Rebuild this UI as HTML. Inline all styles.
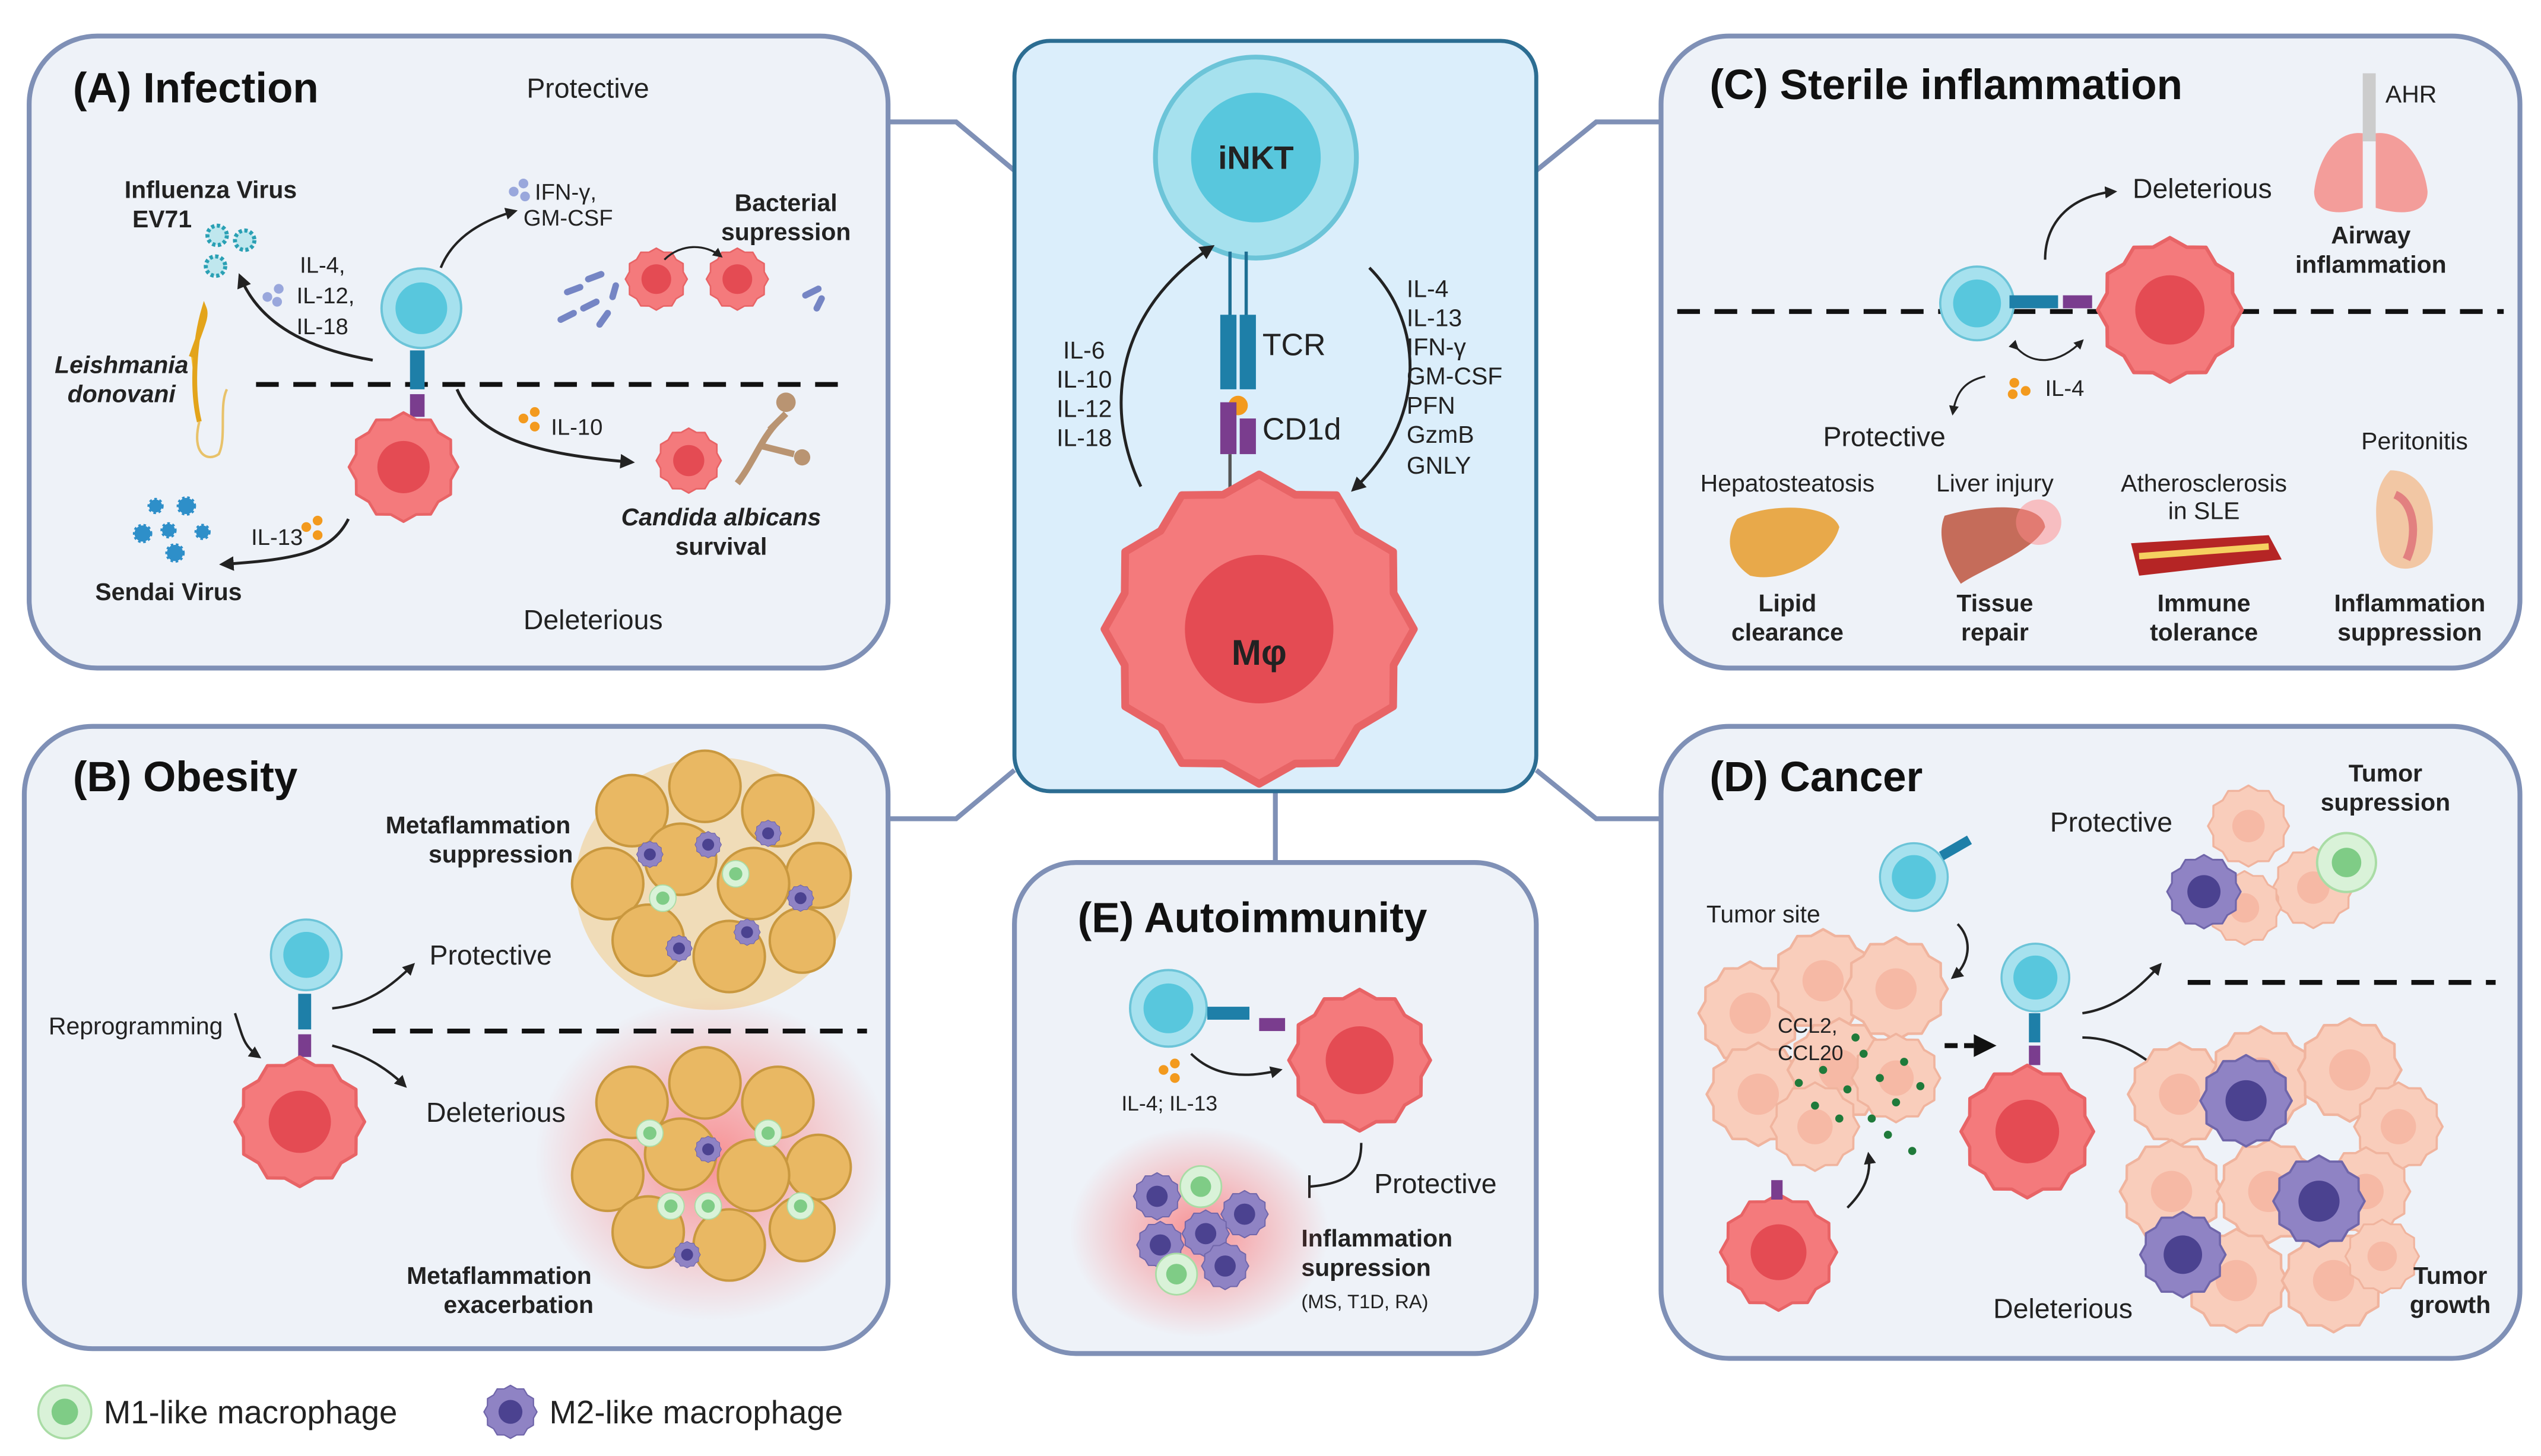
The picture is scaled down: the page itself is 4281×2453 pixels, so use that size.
<!DOCTYPE html>
<html><head><meta charset="utf-8"><style>
html,body{margin:0;padding:0;background:#fff}
svg{display:block}
text{font-family:"Liberation Sans",sans-serif;fill:#222}
.t{font-size:26px;font-weight:bold;fill:#111}
.l{font-size:17px}
.s{font-size:14px}
.b{font-size:15px;font-weight:bold}
.bi{font-size:15px;font-weight:bold;font-style:italic}
</style></head><body>
<svg width="4281" height="2453" viewBox="0 0 1568 898" xmlns="http://www.w3.org/2000/svg">
<defs>
<polygon id="star" points="1,0 .869,.233 .866,.5 .636,.636 .5,.866 .233,.869 0,1 -.233,.869 -.5,.866 -.636,.636 -.866,.5 -.869,.233 -1,0 -.869,-.233 -.866,-.5 -.636,-.636 -.5,-.866 -.233,-.869 0,-1 .233,-.869 .5,-.866 .636,-.636 .866,-.5 .869,-.233" stroke-linejoin="round"/>
<symbol id="blob" viewBox="-1.1 -1.1 2.2 2.2"><use href="#star" fill="#f47a7c" stroke="#e86466" stroke-width=".05"/><circle r=".48" fill="#e44b53"/></symbol>
<symbol id="tum" viewBox="-1.1 -1.1 2.2 2.2"><use href="#star" fill="#f9cdbb" stroke="#f0b49e" stroke-width=".05"/><circle r=".4" fill="#f6b9a5"/></symbol>
<symbol id="m2" viewBox="-1.1 -1.1 2.2 2.2"><use href="#star" fill="#8f83c4" stroke="#7066aa" stroke-width=".05"/><circle r=".45" fill="#4b4290"/></symbol>
<symbol id="m1" viewBox="-1.1 -1.1 2.2 2.2"><circle r="1" fill="#d9f2d8" stroke="#a9dca5" stroke-width=".08"/><circle r=".5" fill="#7fcc86"/></symbol>
<symbol id="nkt" viewBox="-1.1 -1.1 2.2 2.2"><circle r="1" fill="#a6e1ee" stroke="#6cc4d8" stroke-width=".06"/><circle r=".65" fill="#58c7dd"/></symbol>
<marker id="ar" viewBox="0 0 10 10" refX="8" refY="5" markerWidth="5" markerHeight="5" orient="auto"><path d="M0,0L10,5L0,10z" fill="#222"/></marker>
<radialGradient id="glow"><stop offset="0" stop-color="#ff5050" stop-opacity=".6"/><stop offset="1" stop-color="#ff5050" stop-opacity="0"/></radialGradient>
</defs>
<rect width="1568" height="898" fill="#fff"/>
<g stroke="#7f90b6" stroke-width="3" fill="none">
<path d="M548,75L590,75L626,105"/><path d="M548,505L590,505L626,475"/>
<path d="M1025,75L985,75L948,105"/><path d="M1025,505L985,505L948,475"/>
<path d="M787,488V532"/>
</g>
<g stroke="#7f90b6" stroke-width="3" fill="#eef2f8">
<rect x="18" y="22" width="530" height="390" rx="42"/>
<rect x="15" y="448" width="533" height="384" rx="42"/>
<rect x="626" y="532" width="322" height="303" rx="38"/>
<rect x="1025" y="22" width="530" height="390" rx="42"/>
<rect x="1025" y="448" width="530" height="390" rx="42"/>
</g>
<rect x="626" y="25" width="322" height="463" rx="22" fill="#dbeefb" stroke="#2c6d92" stroke-width="2.5"/>
<circle cx="775" cy="97" r="62" fill="#a6e1ee" stroke="#6cc4d8" stroke-width="3"/>
<circle cx="775" cy="97" r="40" fill="#58c7dd"/>
<text x="775" y="104" text-anchor="middle" style="font-size:20px;font-weight:bold">iNKT</text>
<g stroke="#1e6f93" stroke-width="2"><line x1="759" y1="155" x2="759" y2="195"/><line x1="769" y1="155" x2="769" y2="195"/></g>
<rect x="753" y="194" width="10" height="46" fill="#1e7fa8"/><rect x="765" y="194" width="10" height="46" fill="#1e7fa8"/>
<circle cx="764" cy="250" r="6" fill="#f39a1e"/>
<rect x="753" y="248" width="10" height="32" fill="#7a3d8e"/><rect x="765" y="258" width="10" height="22" fill="#7a3d8e"/>
<line x1="759" y1="280" x2="759" y2="310" stroke="#555" stroke-width="2"/>
<text x="779" y="219" class="l" style="font-size:19px">TCR</text>
<text x="779" y="271" class="l" style="font-size:19px">CD1d</text>
<use href="#blob" x="672" y="283" width="210" height="210"/>
<text x="777" y="410" text-anchor="middle" style="font-size:22px;font-weight:bold">Mφ</text>
<path d="M704,300C680,250 690,190 748,152" fill="none" stroke="#222" stroke-width="1.8" marker-end="url(#ar)"/>
<path d="M845,165C880,200 880,260 835,302" fill="none" stroke="#222" stroke-width="1.8" marker-end="url(#ar)"/>
<g class="l" style="font-size:15px"><text x="656" y="221">IL-6</text><text x="652" y="239">IL-10</text><text x="652" y="257">IL-12</text><text x="652" y="275">IL-18</text>
<text x="868" y="183">IL-4</text><text x="868" y="201">IL-13</text><text x="868" y="219">IFN-γ</text><text x="868" y="237">GM-CSF</text><text x="868" y="255">PFN</text><text x="868" y="273">GzmB</text><text x="868" y="292">GNLY</text></g>
<!-- A -->
<text x="45" y="63" class="t">(A) Infection</text>
<text x="325" y="60" class="l">Protective</text><text x="323" y="388" class="l">Deleterious</text>
<line x1="158" y1="237" x2="520" y2="237" stroke="#111" stroke-width="3" stroke-dasharray="14,9"/>
<use href="#nkt" x="233" y="163" width="54" height="54"/>
<rect x="253" y="216" width="9" height="24" fill="#1e7fa8"/><rect x="253" y="243" width="9" height="14" fill="#7a3d8e"/>
<use href="#blob" x="212" y="251" width="74" height="74"/>
<text x="130" y="122" class="b" text-anchor="middle">Influenza Virus</text><text x="100" y="140" class="b" text-anchor="middle">EV71</text>
<g fill="#bfe7ee" stroke="#2aa0b4" stroke-width="2.5" stroke-dasharray="2,1.5"><circle cx="134" cy="145" r="6"/><circle cx="151" cy="148" r="6"/><circle cx="133" cy="164" r="6"/></g>
<path d="M230,222C190,215 160,200 148,170" fill="none" stroke="#222" stroke-width="1.8" marker-end="url(#ar)"/>
<g class="s"><text x="185" y="168">IL-4,</text><text x="183" y="187">IL-12,</text><text x="183" y="206">IL-18</text></g>
<g fill="#99a7dc"><circle cx="165" cy="183" r="3"/><circle cx="172" cy="178" r="3"/><circle cx="171" cy="186" r="3"/></g>
<path d="M272,165C280,145 300,135 318,130" fill="none" stroke="#222" stroke-width="1.5" marker-end="url(#ar)"/>
<text x="330" y="123" class="s">IFN-γ,</text><text x="323" y="139" class="s">GM-CSF</text>
<g fill="#99a7dc"><circle cx="317" cy="118" r="3"/><circle cx="323" cy="113" r="3"/><circle cx="324" cy="121" r="3"/></g>
<text x="485" y="130" class="b" text-anchor="middle">Bacterial</text><text x="485" y="148" class="b" text-anchor="middle">supression</text>
<use href="#blob" x="384" y="151" width="42" height="42"/><use href="#blob" x="434" y="151" width="42" height="42"/>
<path d="M410,160C420,150 435,150 445,158" fill="none" stroke="#222" stroke-width="1.2" marker-end="url(#ar)"/>
<g stroke="#7585c4" stroke-width="4" stroke-linecap="round"><line x1="350" y1="180" x2="358" y2="177"/><line x1="360" y1="190" x2="368" y2="186"/><line x1="346" y1="197" x2="354" y2="193"/><line x1="370" y1="200" x2="375" y2="193"/><line x1="363" y1="172" x2="371" y2="169"/><line x1="378" y1="183" x2="380" y2="176"/><line x1="497" y1="182" x2="505" y2="178"/><line x1="504" y1="190" x2="507" y2="184"/></g>
<text x="75" y="230" class="bi" text-anchor="middle">Leishmania</text><text x="75" y="248" class="bi" text-anchor="middle">donovani</text>
<path d="M118,220C125,200 128,195 126,190C120,210 118,240 123,260" fill="#f2b92c" stroke="#e3a41b" stroke-width="3"/>
<path d="M123,260C118,280 128,285 135,280C140,270 135,250 140,240" fill="none" stroke="#e8c26a" stroke-width="1.5"/>
<path d="M282,240C295,270 330,280 390,285" fill="none" stroke="#222" stroke-width="1.8" marker-end="url(#ar)"/>
<text x="340" y="268" class="s">IL-10</text>
<g fill="#f39a1e"><circle cx="323" cy="258" r="3"/><circle cx="330" cy="254" r="3"/><circle cx="330" cy="263" r="3"/></g>
<use href="#blob" x="403" y="262" width="44" height="44"/>
<path d="M455,298C465,285 470,270 480,260M470,275L490,280M475,265L485,255" stroke="#b99472" stroke-width="4" fill="none"/>
<circle cx="485" cy="248" r="6" fill="#b99472"/><circle cx="495" cy="282" r="5" fill="#b99472"/>
<text x="445" y="324" class="bi" text-anchor="middle">Candida albicans</text><text x="445" y="342" class="b" text-anchor="middle">survival</text>
<path d="M215,320C205,340 185,345 137,348" fill="none" stroke="#222" stroke-width="1.8" marker-end="url(#ar)"/>
<text x="155" y="336" class="s">IL-13</text>
<g fill="#f39a1e"><circle cx="189" cy="325" r="3"/><circle cx="196" cy="321" r="3"/><circle cx="196" cy="330" r="3"/></g>
<g fill="#2e8fc9" stroke="#2e8fc9" stroke-width="2" stroke-dasharray="1.5,1.5"><circle cx="88" cy="329" r="5"/><circle cx="104" cy="327" r="4"/><circle cx="96" cy="312" r="4"/><circle cx="115" cy="312" r="5"/><circle cx="125" cy="328" r="4"/><circle cx="108" cy="341" r="5"/></g>
<text x="104" y="370" class="b" text-anchor="middle">Sendai Virus</text>
<!-- B -->
<text x="45" y="488" class="t">(B) Obesity</text>
<text x="295" y="514" class="b" text-anchor="middle">Metaflammation</text><text x="309" y="532" class="b" text-anchor="middle">suppression</text>
<ellipse cx="440" cy="545" rx="85" ry="78" fill="#f0dcb8"/>
<g fill="#e9b863" stroke="#c9983f" stroke-width="1.5">
<circle cx="390" cy="500" r="22"/><circle cx="435" cy="485" r="22"/><circle cx="480" cy="500" r="22"/><circle cx="505" cy="540" r="20"/><circle cx="375" cy="545" r="22"/><circle cx="420" cy="530" r="22"/><circle cx="465" cy="545" r="22"/><circle cx="400" cy="580" r="22"/><circle cx="450" cy="590" r="22"/><circle cx="495" cy="580" r="20"/></g>
<use href="#m2" x="392" y="518" width="18" height="18"/><use href="#m2" x="428" y="512" width="18" height="18"/><use href="#m2" x="485" y="545" width="18" height="18"/><use href="#m2" x="410" y="576" width="18" height="18"/><use href="#m2" x="452" y="566" width="18" height="18"/><use href="#m2" x="465" y="505" width="18" height="18"/>
<use href="#m1" x="400" y="545" width="18" height="18"/><use href="#m1" x="445" y="530" width="18" height="18"/>
<ellipse cx="440" cy="715" rx="110" ry="100" fill="url(#glow)"/>
<g fill="#e9b863" stroke="#c9983f" stroke-width="1.5">
<circle cx="390" cy="680" r="22"/><circle cx="435" cy="668" r="22"/><circle cx="480" cy="680" r="22"/><circle cx="505" cy="720" r="20"/><circle cx="375" cy="725" r="22"/><circle cx="420" cy="712" r="22"/><circle cx="465" cy="725" r="22"/><circle cx="400" cy="760" r="22"/><circle cx="450" cy="768" r="22"/><circle cx="495" cy="758" r="20"/></g>
<use href="#m1" x="392" y="690" width="18" height="18"/><use href="#m1" x="428" y="735" width="18" height="18"/><use href="#m1" x="485" y="735" width="18" height="18"/><use href="#m1" x="405" y="735" width="18" height="18"/><use href="#m1" x="465" y="690" width="18" height="18"/><use href="#m2" x="428" y="700" width="18" height="18"/><use href="#m2" x="415" y="765" width="18" height="18"/>
<text x="308" y="792" class="b" text-anchor="middle">Metaflammation</text><text x="320" y="810" class="b" text-anchor="middle">exacerbation</text>
<use href="#nkt" x="165" y="565" width="48" height="48"/>
<rect x="184" y="613" width="8" height="22" fill="#1e7fa8"/><rect x="184" y="638" width="8" height="14" fill="#7a3d8e"/>
<use href="#blob" x="141" y="648" width="88" height="88"/>
<line x1="230" y1="636" x2="535" y2="636" stroke="#111" stroke-width="3" stroke-dasharray="14,9"/>
<path d="M205,622C225,620 240,610 255,595" fill="none" stroke="#222" stroke-width="1.5" marker-end="url(#ar)"/>
<path d="M205,645C225,650 240,660 250,670" fill="none" stroke="#222" stroke-width="1.5" marker-end="url(#ar)"/>
<text x="265" y="595" class="l">Protective</text><text x="263" y="692" class="l">Deleterious</text>
<text x="30" y="638" class="s" style="font-size:15px">Reprogramming</text>
<path d="M145,625C150,640 150,645 160,652" fill="none" stroke="#222" stroke-width="1.5" marker-end="url(#ar)"/>
<!-- E -->
<text x="665" y="575" class="t">(E) Autoimmunity</text>
<use href="#nkt" x="695" y="596" width="52" height="52"/>
<rect x="745" y="621" width="26" height="8" fill="#1e7fa8"/><rect x="777" y="628" width="16" height="8" fill="#7a3d8e"/>
<use href="#blob" x="791" y="606" width="96" height="96"/>
<path d="M735,650C750,665 770,665 790,660" fill="none" stroke="#222" stroke-width="1.5" marker-end="url(#ar)"/>
<g fill="#f39a1e"><circle cx="718" cy="660" r="3"/><circle cx="725" cy="656" r="3"/><circle cx="725" cy="665" r="3"/></g>
<text x="692" y="685" class="s" style="font-size:13px">IL-4; IL-13</text>
<path d="M840,705C840,720 835,730 808,732" fill="none" stroke="#222" stroke-width="1.5"/><line x1="808" y1="725" x2="808" y2="739" stroke="#222" stroke-width="1.5"/>
<text x="848" y="736" class="l">Protective</text>
<text x="803" y="769" class="b">Inflammation</text><text x="803" y="787" class="b">supression</text>
<text x="803" y="807" class="s" style="font-size:12px">(MS, T1D, RA)</text>
<ellipse cx="740" cy="760" rx="80" ry="65" fill="url(#glow)"/>
<use href="#m2" x="698" y="722" width="32" height="32"/><use href="#m2" x="752" y="733" width="32" height="32"/><use href="#m2" x="700" y="752" width="32" height="32"/><use href="#m2" x="728" y="745" width="32" height="32"/><use href="#m2" x="740" y="765" width="32" height="32"/>
<use href="#m1" x="727" y="718" width="28" height="28"/><use href="#m1" x="712" y="772" width="28" height="28"/>
<!-- C -->
<text x="1055" y="61" class="t">(C) Sterile inflammation</text>
<path d="M1458,82C1440,80 1430,100 1428,118C1428,130 1440,134 1458,128z" fill="#f39d9a"/>
<path d="M1466,82C1484,80 1496,100 1498,118C1498,130 1486,134 1466,128z" fill="#f39d9a"/>
<rect x="1458" y="45" width="8" height="42" fill="#ccc"/>
<text x="1472" y="63" class="s" style="font-size:15px">AHR</text>
<text x="1463" y="150" class="b" text-anchor="middle">Airway</text><text x="1463" y="168" class="b" text-anchor="middle">inflammation</text>
<text x="1316" y="122" class="l">Deleterious</text>
<path d="M1262,160C1262,135 1280,120 1305,118" fill="none" stroke="#222" stroke-width="1.5" marker-end="url(#ar)"/>
<line x1="1035" y1="192" x2="1545" y2="192" stroke="#111" stroke-width="3" stroke-dasharray="14,9"/>
<use href="#nkt" x="1195" y="162" width="50" height="50"/>
<rect x="1240" y="182" width="30" height="8" fill="#1e7fa8"/><rect x="1273" y="182" width="18" height="8" fill="#7a3d8e"/>
<use href="#blob" x="1290" y="142" width="98" height="98"/>
<path d="M1245,215C1255,225 1270,225 1285,210" fill="none" stroke="#222" stroke-width="1.2" marker-end="url(#ar)" marker-start="url(#ar)"/>
<path d="M1225,232C1212,235 1207,242 1205,255" fill="none" stroke="#222" stroke-width="1.2" marker-end="url(#ar)"/>
<g fill="#f39a1e"><circle cx="1243" cy="236" r="3"/><circle cx="1250" cy="241" r="3"/><circle cx="1242" cy="243" r="3"/></g>
<text x="1262" y="244" class="s">IL-4</text>
<text x="1125" y="275" class="l">Protective</text>
<g class="s" style="font-size:15px" text-anchor="middle"><text x="1103" y="303">Hepatosteatosis</text><text x="1231" y="303">Liver injury</text><text x="1360" y="303">Atherosclerosis</text><text x="1360" y="320">in SLE</text><text x="1490" y="277">Peritonitis</text></g>
<path d="M1072,320C1090,310 1130,310 1135,325C1130,345 1100,360 1080,355C1065,345 1065,330 1072,320z" fill="#e8a94a"/>
<path d="M1200,318C1220,312 1260,308 1262,325C1255,340 1225,350 1210,360C1200,345 1195,330 1200,318z" fill="#c56c5a"/>
<circle cx="1258" cy="322" r="14" fill="#ff8a8a" opacity=".5"/>
<path d="M1315,335L1400,330L1408,345L1320,355z" fill="#b52525"/><path d="M1320,343L1400,337" stroke="#f5d060" stroke-width="4"/>
<path d="M1475,290C1495,290 1505,310 1500,340C1495,355 1470,355 1468,335C1465,315 1465,300 1475,290z" fill="#f2c7a4"/>
<path d="M1478,305C1490,310 1492,330 1485,345" stroke="#e28080" stroke-width="5" fill="none"/>
<g class="b" text-anchor="middle"><text x="1103" y="377">Lipid</text><text x="1103" y="395">clearance</text><text x="1231" y="377">Tissue</text><text x="1231" y="395">repair</text><text x="1360" y="377">Immune</text><text x="1360" y="395">tolerance</text><text x="1487" y="377">Inflammation</text><text x="1487" y="395">suppression</text></g>
<!-- D -->
<text x="1055" y="488" class="t">(D) Cancer</text>
<text x="1265" y="513" class="l">Protective</text>
<text x="1472" y="482" class="b" text-anchor="middle">Tumor</text><text x="1472" y="500" class="b" text-anchor="middle">supression</text>
<text x="1053" y="569" class="s" style="font-size:15px">Tumor site</text>
<use href="#tum" x="1045" y="590" width="70" height="70"/><use href="#tum" x="1090" y="570" width="70" height="70"/><use href="#tum" x="1135" y="575" width="70" height="70"/><use href="#tum" x="1050" y="640" width="70" height="70"/><use href="#tum" x="1100" y="625" width="70" height="70"/><use href="#tum" x="1140" y="635" width="60" height="60"/><use href="#tum" x="1090" y="665" width="60" height="60"/>
<text x="1097" y="637" class="s" style="font-size:13px">CCL2,</text><text x="1097" y="654" class="s" style="font-size:13px">CCL20</text>
<g fill="#1f7a3a"><circle cx="1110" cy="668" r="2.5"/><circle cx="1125" cy="660" r="2.5"/><circle cx="1140" cy="672" r="2.5"/><circle cx="1150" cy="650" r="2.5"/><circle cx="1160" cy="665" r="2.5"/><circle cx="1170" cy="680" r="2.5"/><circle cx="1155" cy="690" r="2.5"/><circle cx="1135" cy="690" r="2.5"/><circle cx="1120" cy="682" r="2.5"/><circle cx="1175" cy="655" r="2.5"/><circle cx="1185" cy="670" r="2.5"/><circle cx="1145" cy="640" r="2.5"/><circle cx="1165" cy="700" r="2.5"/><circle cx="1180" cy="710" r="2.5"/></g>
<use href="#nkt" x="1158" y="518" width="46" height="46"/><rect x="1198" y="525" width="20" height="6" fill="#1e7fa8" transform="rotate(-30 1198 528)"/>
<path d="M1208,570C1218,580 1215,595 1205,603" fill="none" stroke="#222" stroke-width="1.5" marker-end="url(#ar)"/>
<use href="#blob" x="1058" y="733" width="79" height="79"/><rect x="1093" y="728" width="7" height="12" fill="#7a3d8e"/>
<path d="M1140,745C1150,735 1155,725 1153,712" fill="none" stroke="#222" stroke-width="1.5" marker-end="url(#ar)"/>
<line x1="1200" y1="645" x2="1218" y2="645" stroke="#111" stroke-width="3" stroke-dasharray="8,4"/><path d="M1218,638L1232,645L1218,652z" fill="#111"/>
<use href="#nkt" x="1233" y="580" width="46" height="46"/><rect x="1252" y="625" width="7" height="18" fill="#1e7fa8"/><rect x="1252" y="645" width="7" height="12" fill="#7a3d8e"/>
<use href="#blob" x="1206" y="653" width="90" height="90"/>
<path d="M1285,625C1305,622 1320,610 1333,595" fill="none" stroke="#222" stroke-width="1.5" marker-end="url(#ar)"/>
<path d="M1285,640C1305,640 1320,650 1333,660" fill="none" stroke="#222" stroke-width="1.5" marker-end="url(#ar)"/>
<line x1="1350" y1="606" x2="1540" y2="606" stroke="#111" stroke-width="3" stroke-dasharray="14,9"/>
<use href="#tum" x="1360" y="482" width="55" height="55"/><use href="#tum" x="1400" y="520" width="55" height="55"/><use href="#tum" x="1360" y="535" width="50" height="50"/>
<use href="#m2" x="1335" y="525" width="50" height="50"/><use href="#m1" x="1428" y="512" width="40" height="40"/>
<use href="#tum" x="1310" y="640" width="70" height="70"/><use href="#tum" x="1360" y="630" width="70" height="70"/><use href="#tum" x="1415" y="625" width="70" height="70"/><use href="#tum" x="1450" y="665" width="60" height="60"/><use href="#tum" x="1305" y="700" width="70" height="70"/><use href="#tum" x="1365" y="700" width="70" height="70"/><use href="#tum" x="1430" y="705" width="60" height="60"/><use href="#tum" x="1345" y="755" width="70" height="70"/><use href="#tum" x="1405" y="755" width="70" height="70"/><use href="#tum" x="1445" y="750" width="50" height="50"/>
<use href="#m2" x="1355" y="648" width="62" height="62"/><use href="#m2" x="1400" y="710" width="62" height="62"/><use href="#m2" x="1318" y="745" width="58" height="58"/>
<text x="1512" y="792" class="b" text-anchor="middle">Tumor</text><text x="1512" y="810" class="b" text-anchor="middle">growth</text>
<text x="1230" y="813" class="l">Deleterious</text>
<!-- legend -->
<use href="#m1" x="22" y="853" width="36" height="36"/><text x="64" y="878" class="l" style="font-size:20px">M1-like macrophage</text>
<use href="#m2" x="297" y="853" width="36" height="36"/><text x="339" y="878" class="l" style="font-size:20px">M2-like macrophage</text>
</svg>
</body></html>
